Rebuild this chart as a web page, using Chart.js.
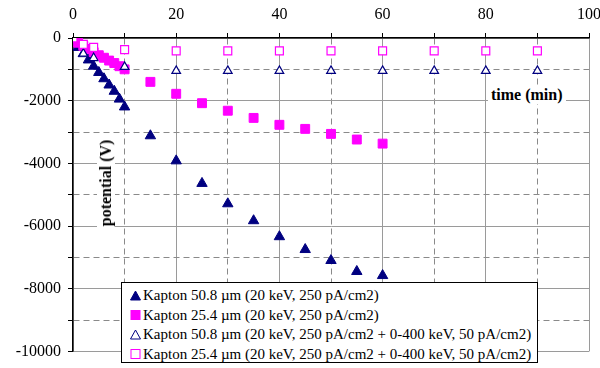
<!DOCTYPE html>
<html>
<head>
<meta charset="utf-8">
<script src="https://cdn.jsdelivr.net/npm/chart.js@4"></script>
<style>
  body { margin: 0; background: #fff; }
  #wrap { position: relative; width: 600px; height: 368px; font-family: "Liberation Serif", "Times New Roman", Tinos, "Noto Serif", "DejaVu Serif", serif; }
  .axis-title { position: absolute; background: #fff; font-weight: bold; font-size: 16px; line-height: 18px; padding: 0 3px; white-space: nowrap; }
  #xTitle { left: 488px; top: 86px; }
  #yTitle { left: 106px; top: 183px; transform: translate(-50%, -50%) rotate(-90deg); }
  #legend { position: absolute; left: 121px; top: 282px; width: 417px; height: 81px; border: 1px solid #000; background: #fff; box-sizing: border-box; padding-top: 3px; }
  .row { height: 19.5px; display: flex; align-items: center; font-size: 15px; white-space: nowrap; }
  .row svg { margin-left: 8px; margin-right: 2px; }
</style>
</head>
<body>
<div id="wrap">
  <canvas id="chart" width="600" height="368"></canvas>
  <div class="axis-title" id="xTitle">time (min)</div>
  <div class="axis-title" id="yTitle">potential (V)</div>
  <div id="legend"></div>
</div>
<script>
// Kapton 50.8 um, 20 keV only
const timeA = [1, 2, 3, 4, 5, 6, 7, 8, 9, 10, 15, 20, 25, 30, 35, 40, 45, 50, 55, 60];
const potA = [-300, -500, -700, -900, -1100, -1300, -1500, -1700, -1950, -2200, -3120, -3920, -4640, -5290, -5830, -6340, -6750, -7100, -7450, -7580];

// Kapton 25.4 um, 20 keV only
const timeB = [0, 1, 2, 3, 4, 5, 6, 7, 8, 9, 10, 15, 20, 25, 30, 35, 40, 45, 50, 55, 60];
const potB = [0, -150, -250, -350, -450, -550, -630, -720, -800, -900, -1000, -1400, -1780, -2080, -2320, -2550, -2770, -2900, -3060, -3240, -3370];

// Kapton 50.8 um, 20 keV + 0-400 keV
const timeC = [2, 4, 10, 20, 30, 40, 50, 60, 70, 80, 90];
const potC = [-500, -640, -920, -1050, -1050, -1050, -1050, -1050, -1050, -1050, -1050];

// Kapton 25.4 um, 20 keV + 0-400 keV
const timeD = [0, 2, 4, 10, 20, 30, 40, 50, 60, 70, 80, 90];
const potD = [0, -200, -300, -370, -410, -410, -410, -410, -410, -410, -410, -410];

const labels = [
  "Kapton 50.8 \u00b5m (20 keV, 250 pA/cm2)",
  "Kapton 25.4 \u00b5m (20 keV, 250 pA/cm2)",
  "Kapton 50.8 \u00b5m (20 keV, 250 pA/cm2 + 0-400 keV, 50 pA/cm2)",
  "Kapton 25.4 \u00b5m (20 keV, 250 pA/cm2 + 0-400 keV, 50 pA/cm2)"
];

const NAVY = "#000080";
const MAGENTA = "#ff00ff";
const FONT = "'Liberation Serif', 'Times New Roman', Tinos, 'Noto Serif', 'DejaVu Serif', serif";

const toPoints = (t, v) => t.map((x, i) => ({ x: x, y: v[i] }));

const datasets = [
  { label: labels[0], data: toPoints(timeA, potA), pointStyle: "triangle", pointRadius: 6,
    backgroundColor: NAVY, borderColor: NAVY, borderWidth: 1, order: 3 },
  { label: labels[1], data: toPoints(timeB, potB), pointStyle: "rect", pointRadius: 6.3,
    backgroundColor: MAGENTA, borderColor: MAGENTA, borderWidth: 1, order: 2 },
  { label: labels[2], data: toPoints(timeC, potC), pointStyle: "triangle", pointRadius: 5,
    backgroundColor: "#fff", borderColor: NAVY, borderWidth: 1.2, order: 1 },
  { label: labels[3], data: toPoints(timeD, potD), pointStyle: "rect", pointRadius: 5.6,
    backgroundColor: "#fff", borderColor: MAGENTA, borderWidth: 1.2, order: 0 }
];

// major lines solid, minor ones dashed
const isMajorX = (ctx) => ctx.tick && ctx.tick.value % 20 === 0;
const isMajorY = (ctx) => ctx.tick && ctx.tick.value % 2000 === 0;

new Chart(document.getElementById("chart"), {
  type: "scatter",
  data: { datasets: datasets },
  options: {
    responsive: false,
    animation: false,
    layout: { padding: { left: 0, right: 11, top: 0, bottom: 16 } },
    plugins: { legend: { display: false }, tooltip: { enabled: false } },
    scales: {
      x: {
        type: "linear",
        position: "top",
        min: 0,
        max: 100,
        afterFit: (scale) => {
          scale.height = 38;
          // the "100" label may hang over the right edge
          scale.paddingRight = 0;
          scale.paddingLeft = 0;
        },
        ticks: {
          stepSize: 10,
          padding: 9,
          color: "#000",
          font: { family: FONT, size: 16 },
          maxRotation: 0,
          callback: (v) => (v % 20 === 0 ? v : "")
        },
        grid: {
          color: (ctx) => (isMajorX(ctx) ? "#9a9a9a" : "#8a8a8a"),
          lineWidth: 1,
          tickColor: "#000",
          tickLength: 5
        },
        border: {
          color: "#000",
          width: 1.5,
          dash: (ctx) => (ctx.tick && !isMajorX(ctx) ? [6, 4] : [])
        }
      },
      y: {
        type: "linear",
        min: -10000,
        max: 0,
        afterFit: (scale) => { scale.width = 73; },
        ticks: {
          stepSize: 1000,
          padding: 7,
          color: "#000",
          font: { family: FONT, size: 16 },
          callback: (v) => (v % 2000 === 0 ? v : "")
        },
        grid: {
          color: (ctx) => (isMajorY(ctx) ? "#9a9a9a" : "#8a8a8a"),
          lineWidth: 1,
          tickColor: "#000",
          tickLength: 5
        },
        border: {
          color: "#000",
          width: 1.5,
          dash: (ctx) => (ctx.tick && !isMajorY(ctx) ? [6, 4] : [])
        }
      }
    }
  }
});

// legend box inside the plot, as in the original
function marker(ds) {
  const filled = ds.backgroundColor !== "#fff";
  const col = ds.borderColor;
  const fill = filled ? col : "#fff";
  const shape = ds.pointStyle === "triangle"
    ? '<polygon points="5.5,1 10.5,10 0.5,10" fill="' + fill + '" stroke="' + col + '" stroke-width="1"/>'
    : '<rect x="1" y="1.5" width="9" height="9" fill="' + fill + '" stroke="' + col + '" stroke-width="1"/>';
  return '<svg width="11" height="12" viewBox="0 0 11 12">' + shape + "</svg>";
}

document.getElementById("legend").innerHTML = datasets
  .map((ds) => '<div class="row">' + marker(ds) + "<span>" + ds.label + "</span></div>")
  .join("");
</script>
</body>
</html>
